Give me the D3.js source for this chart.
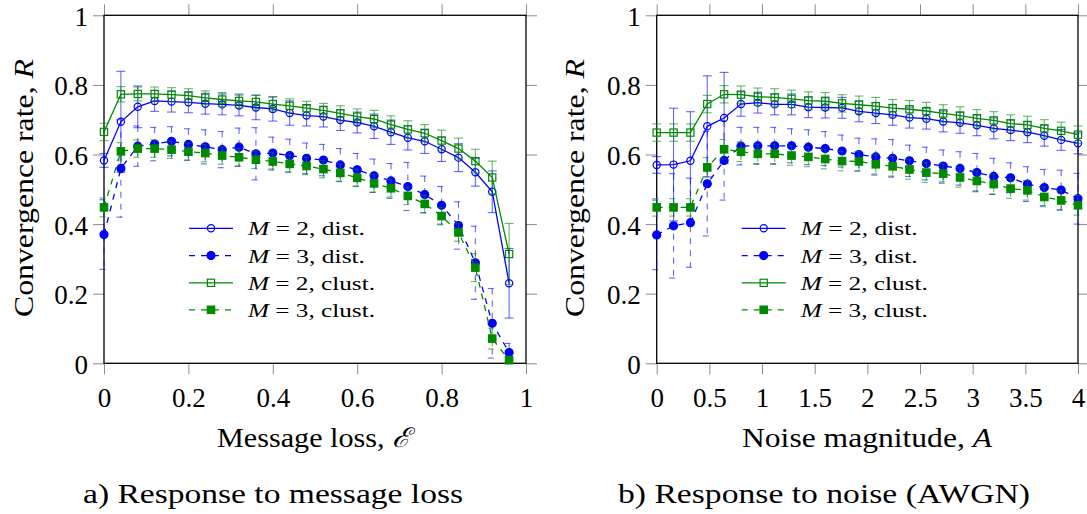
<!DOCTYPE html>
<html>
<head>
<meta charset="utf-8">
<script src="https://cdn.jsdelivr.net/npm/d3@7"></script>
<style>
  body { margin: 0; background: #fff; }
  svg { display: block; }
</style>
</head>
<body>
<svg id="fig" width="1087" height="514"></svg>
<script>
// ---- Data: convergence rate R (mean ± spread) ----
const lossLevels = [0, 0.04, 0.08, 0.12, 0.16, 0.2, 0.24, 0.28, 0.32, 0.36, 0.4, 0.44, 0.48,
  0.52, 0.56, 0.6, 0.64, 0.68, 0.72, 0.76, 0.8, 0.84, 0.88, 0.92, 0.96];

const lossM2Dist = [0.583, 0.694, 0.737, 0.754, 0.752, 0.750, 0.746, 0.744, 0.741, 0.735, 0.731, 0.719, 0.712,
  0.709, 0.699, 0.692, 0.681, 0.664, 0.648, 0.638, 0.615, 0.591, 0.549, 0.493, 0.230];
const lossM2DistErr = [0.02, 0.145, 0.06, 0.03, 0.03, 0.03, 0.03, 0.03, 0.03, 0.035, 0.035, 0.035, 0.03,
  0.03, 0.03, 0.03, 0.035, 0.035, 0.035, 0.035, 0.035, 0.04, 0.04, 0.06, 0.10];

const lossM3Dist = [0.370, 0.560, 0.624, 0.630, 0.638, 0.629, 0.622, 0.614, 0.621, 0.602, 0.604, 0.597, 0.589,
  0.584, 0.570, 0.556, 0.539, 0.524, 0.508, 0.485, 0.454, 0.396, 0.289, 0.115, 0.031];
const lossM3DistErr = [0.10, 0.14, 0.058, 0.048, 0.042, 0.045, 0.049, 0.052, 0.055, 0.075, 0.046, 0.047, 0.044,
  0.045, 0.047, 0.047, 0.048, 0.05, 0.069, 0.053, 0.054, 0.068, 0.105, 0.10, 0.026];

const lossM2Clust = [0.665, 0.773, 0.774, 0.774, 0.772, 0.769, 0.763, 0.758, 0.754, 0.751, 0.745, 0.740, 0.733,
  0.727, 0.718, 0.709, 0.702, 0.686, 0.672, 0.661, 0.640, 0.617, 0.581, 0.534, 0.314];
const lossM2ClustErr = [0.025, 0.022, 0.02, 0.02, 0.02, 0.02, 0.02, 0.02, 0.02, 0.02, 0.02, 0.02, 0.02,
  0.02, 0.022, 0.022, 0.025, 0.025, 0.025, 0.025, 0.03, 0.03, 0.034, 0.047, 0.088];

const lossM3Clust = [0.448, 0.609, 0.617, 0.617, 0.614, 0.608, 0.604, 0.597, 0.592, 0.585, 0.580, 0.573, 0.567,
  0.558, 0.547, 0.533, 0.517, 0.503, 0.481, 0.458, 0.423, 0.376, 0.275, 0.071, 0.009];
const lossM3ClustErr = [0.027, 0.025, 0.025, 0.025, 0.025, 0.025, 0.025, 0.025, 0.025, 0.025, 0.025, 0.025, 0.025,
  0.025, 0.025, 0.025, 0.025, 0.025, 0.025, 0.025, 0.025, 0.025, 0.04, 0.03, 0.01];

const noiseLevels = [0, 0.16, 0.32, 0.48, 0.64, 0.8, 0.96, 1.12, 1.28, 1.44, 1.6, 1.76, 1.92,
  2.08, 2.24, 2.4, 2.56, 2.72, 2.88, 3.04, 3.2, 3.36, 3.52, 3.68, 3.84, 4];

const noiseM2Dist = [0.570, 0.571, 0.582, 0.681, 0.705, 0.745, 0.749, 0.744, 0.744, 0.736, 0.735, 0.734, 0.724,
  0.719, 0.714, 0.706, 0.703, 0.695, 0.691, 0.684, 0.675, 0.670, 0.664, 0.654, 0.642, 0.632];
const noiseM2DistErr = [0.024, 0.162, 0.141, 0.145, 0.131, 0.035, 0.03, 0.03, 0.03, 0.03, 0.03, 0.03, 0.03,
  0.03, 0.03, 0.03, 0.03, 0.03, 0.03, 0.03, 0.03, 0.03, 0.03, 0.03, 0.03, 0.03];

const noiseM3Dist = [0.369, 0.395, 0.404, 0.516, 0.583, 0.624, 0.625, 0.625, 0.625, 0.621, 0.617, 0.610, 0.600,
  0.593, 0.589, 0.582, 0.574, 0.567, 0.560, 0.548, 0.537, 0.533, 0.515, 0.505, 0.498, 0.473];
const noiseM3DistErr = [0.10, 0.15, 0.128, 0.15, 0.114, 0.054, 0.053, 0.053, 0.049, 0.05, 0.049, 0.046, 0.047,
  0.052, 0.054, 0.045, 0.047, 0.046, 0.048, 0.055, 0.052, 0.043, 0.05, 0.052, 0.057, 0.073];

const noiseM2Clust = [0.663, 0.663, 0.663, 0.745, 0.773, 0.772, 0.766, 0.764, 0.760, 0.755, 0.753, 0.747, 0.743,
  0.739, 0.733, 0.730, 0.725, 0.718, 0.712, 0.704, 0.698, 0.689, 0.685, 0.675, 0.668, 0.657];
const noiseM2ClustErr = [0.025, 0.025, 0.025, 0.025, 0.025, 0.025, 0.025, 0.025, 0.025, 0.025, 0.025, 0.025, 0.025,
  0.025, 0.025, 0.025, 0.025, 0.025, 0.025, 0.025, 0.025, 0.025, 0.025, 0.025, 0.025, 0.025];

const noiseM3Clust = [0.448, 0.448, 0.448, 0.563, 0.615, 0.608, 0.602, 0.602, 0.597, 0.593, 0.587, 0.581, 0.580,
  0.572, 0.566, 0.557, 0.548, 0.545, 0.534, 0.524, 0.515, 0.502, 0.497, 0.478, 0.468, 0.454];
const noiseM3ClustErr = [0.025, 0.025, 0.025, 0.028, 0.028, 0.028, 0.028, 0.028, 0.028, 0.028, 0.028, 0.028, 0.028,
  0.028, 0.028, 0.028, 0.028, 0.028, 0.028, 0.028, 0.028, 0.028, 0.028, 0.028, 0.028, 0.028];

const rateTicks = [0, 0.2, 0.4, 0.6, 0.8, 1];
const lossTicks = [0, 0.2, 0.4, 0.6, 0.8, 1];
const noiseTicks = [0, 0.5, 1, 1.5, 2, 2.5, 3, 3.5, 4];

const seriesNames = ["2, dist.", "3, dist.", "2, clust.", "3, clust."];

// ---- Font: first installed serif face from a preference list ----
function pickSerif(candidates) {
  const ctx = document.createElement("canvas").getContext("2d");
  const probe = "Convergence rate 0.123456789";
  for (const fallback of ["monospace", "sans-serif"]) {
    ctx.font = `40px ${fallback}`;
    const base = ctx.measureText(probe).width;
    for (const name of candidates) {
      ctx.font = `40px "${name}", ${fallback}`;
      if (Math.abs(ctx.measureText(probe).width - base) > 0.5) return `"${name}", serif`;
    }
  }
  return "serif";
}
const SERIF = pickSerif(["Liberation Serif", "Tinos", "Noto Serif", "DejaVu Serif"]);
const BIG = 27, SMALL = 18.5;

// ---- Styles ----
const BLUE = "#0000ff";
const GREEN = "#008a00";
const styles = [
  { color: BLUE,  dashed: false, marker: "circle", filled: false },
  { color: BLUE,  dashed: true,  marker: "circle", filled: true },
  { color: GREEN, dashed: false, marker: "square", filled: false },
  { color: GREEN, dashed: true,  marker: "square", filled: true }
];
const DASH = "6,6";

const svg = d3.select("#fig");
svg.append("style").text(`text, tspan { font-family: ${SERIF}; fill: #000; }`);
const TOP = 15.3, BOTTOM = 363.3;

function drawMarker(g, st, cx, cy) {
  if (st.marker === "circle") {
    g.append("circle").attr("cx", cx).attr("cy", cy)
      .attr("r", st.filled ? 4 : 3.6)
      .attr("fill", st.filled ? st.color : "none")
      .attr("stroke", st.color).attr("stroke-width", 1.2);
  } else {
    const s = st.filled ? 7.4 : 7.2;
    g.append("rect").attr("x", cx - s / 2).attr("y", cy - s / 2)
      .attr("width", s).attr("height", s)
      .attr("fill", st.filled ? st.color : "none")
      .attr("stroke", st.color).attr("stroke-width", 1.2);
  }
}

function drawPanel(cfg) {
  const x = d3.scaleLinear().domain(cfg.domain).range([cfg.left, cfg.right]);
  const y = d3.scaleLinear().domain([0, 1]).range([BOTTOM, TOP]);
  const g = svg.append("g");
  const fmt = d => String(d);

  // Axes with outward ticks on all four sides
  const styleAxis = sel => {
    sel.attr("font-family", null).attr("font-size", BIG);
    sel.select(".domain").remove();
    sel.selectAll(".tick line").attr("stroke", "#8c8c8c").attr("stroke-width", 1);
    sel.selectAll(".tick text").attr("fill", "#000");
  };
  const bottom = g.append("g").attr("transform", `translate(0,${BOTTOM})`)
    .call(d3.axisBottom(x).tickValues(cfg.ticks).tickFormat(fmt).tickSize(11));
  styleAxis(bottom);
  bottom.selectAll(".tick text").attr("y", 43.4).attr("dy", 0);

  const top = g.append("g").attr("transform", `translate(0,${TOP})`)
    .call(d3.axisTop(x).tickValues(cfg.ticks).tickFormat("").tickSize(11));
  styleAxis(top);

  const left = g.append("g").attr("transform", `translate(${cfg.left},0)`)
    .call(d3.axisLeft(y).tickValues(rateTicks).tickFormat(fmt).tickSize(11));
  styleAxis(left);
  left.selectAll(".tick text").attr("x", -16).attr("dy", 0).attr("y", 10);

  const right = g.append("g").attr("transform", `translate(${cfg.right},0)`)
    .call(d3.axisRight(y).tickValues(rateTicks).tickFormat("").tickSize(11));
  styleAxis(right);

  // Frame
  g.append("rect").attr("x", cfg.left).attr("y", TOP)
    .attr("width", cfg.right - cfg.left).attr("height", BOTTOM - TOP)
    .attr("fill", "none").attr("stroke", "#000").attr("stroke-width", 1.3);

  // Series: error bars, line, markers
  cfg.series.forEach((s, k) => {
    const st = styles[k];
    const sg = g.append("g");
    const eg = sg.append("g").attr("stroke", st.color).attr("stroke-opacity", 0.6)
      .attr("stroke-width", 1.1).attr("fill", "none");
    if (st.dashed) eg.attr("stroke-dasharray", DASH);
    s.values.forEach((v, i) => {
      const cx = x(cfg.xs[i]);
      const y1 = y(v + s.err[i]), y0 = y(v - s.err[i]);
      eg.append("line").attr("x1", cx).attr("x2", cx).attr("y1", y1).attr("y2", y0);
      eg.append("line").attr("x1", cx - 4.5).attr("x2", cx + 4.5).attr("y1", y1).attr("y2", y1);
      eg.append("line").attr("x1", cx - 4.5).attr("x2", cx + 4.5).attr("y1", y0).attr("y2", y0);
    });
    const line = d3.line().x((d, i) => x(cfg.xs[i])).y(d => y(d));
    const path = sg.append("path").datum(s.values).attr("d", line)
      .attr("fill", "none").attr("stroke", st.color).attr("stroke-width", 1.3);
    if (st.dashed) path.attr("stroke-dasharray", DASH);
    s.values.forEach((v, i) => drawMarker(sg, st, x(cfg.xs[i]), y(v)));
  });

  // Legend
  const lg = g.append("g");
  const lx0 = cfg.left + 85, lx1 = cfg.left + 129, tx = cfg.left + 144;
  const rows = [228.3, 255.6, 282.8, 309.8];
  const widths = [117, 117, 127, 127];
  seriesNames.forEach((name, k) => {
    const st = styles[k];
    const ry = rows[k];
    const ln = lg.append("line").attr("x1", lx0).attr("x2", lx1).attr("y1", ry).attr("y2", ry)
      .attr("stroke", st.color).attr("stroke-width", 1.3);
    if (st.dashed) ln.attr("stroke-dasharray", DASH);
    drawMarker(lg, st, (lx0 + lx1) / 2, ry);
    const t = lg.append("text").attr("x", tx).attr("y", ry + 7).attr("font-size", SMALL)
      .attr("textLength", widths[k]).attr("lengthAdjust", "spacingAndGlyphs");
    t.append("tspan").attr("font-style", "italic").text("M");
    t.append("tspan").text(" = " + name);
  });

  // Axis titles and caption
  const xl = g.append("text").attr("x", cfg.xLabelX).attr("y", 447).attr("text-anchor", "middle")
    .attr("font-size", BIG).attr("textLength", cfg.xLabelW).attr("lengthAdjust", "spacingAndGlyphs");
  xl.append("tspan").text(cfg.xLabel);
  xl.append("tspan").attr("font-style", "italic").text(cfg.xSym);

  const yl = g.append("text")
    .attr("transform", `translate(${cfg.yLabelX},188) rotate(-90)`)
    .attr("text-anchor", "middle").attr("font-size", BIG)
    .attr("textLength", 258).attr("lengthAdjust", "spacingAndGlyphs");
  yl.append("tspan").text("Convergence rate, ");
  yl.append("tspan").attr("font-style", "italic").text("R");

  g.append("text").attr("x", cfg.capX).attr("y", 503).attr("text-anchor", "middle")
    .attr("font-size", BIG).attr("textLength", cfg.capW).attr("lengthAdjust", "spacingAndGlyphs")
    .text(cfg.caption);
}

drawPanel({
  left: 104, right: 526, domain: [0, 1], ticks: lossTicks, xs: lossLevels,
  series: [
    { values: lossM2Dist, err: lossM2DistErr },
    { values: lossM3Dist, err: lossM3DistErr },
    { values: lossM2Clust, err: lossM2ClustErr },
    { values: lossM3Clust, err: lossM3ClustErr }
  ],
  xLabel: "Message loss, ", xSym: "\u2130", xLabelX: 313.5, xLabelW: 193,
  yLabelX: 33, caption: "a) Response to message loss", capX: 273, capW: 380
});

drawPanel({
  left: 656.7, right: 1078, domain: [0, 4], ticks: noiseTicks, xs: noiseLevels,
  series: [
    { values: noiseM2Dist, err: noiseM2DistErr },
    { values: noiseM3Dist, err: noiseM3DistErr },
    { values: noiseM2Clust, err: noiseM2ClustErr },
    { values: noiseM3Clust, err: noiseM3ClustErr }
  ],
  xLabel: "Noise magnitude, ", xSym: "A", xLabelX: 867, xLabelW: 250,
  yLabelX: 584, caption: "b) Response to noise (AWGN)", capX: 824, capW: 412
});
</script>
</body>
</html>
